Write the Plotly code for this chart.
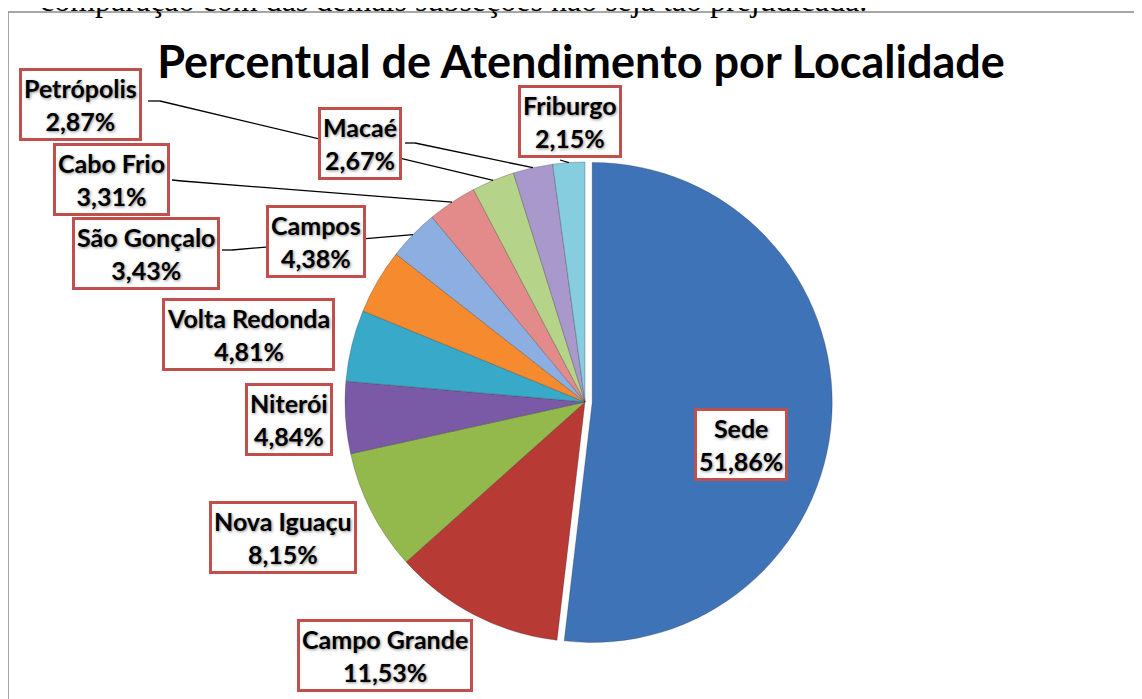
import math
import plotly.graph_objects as go

# ---------------- data ----------------
localidades = ["Sede", "Campo Grande", "Nova Iguaçu", "Niterói", "Volta Redonda",
               "Campos", "São Gonçalo", "Cabo Frio", "Petrópolis", "Macaé", "Friburgo"]
percentuais = [51.86, 11.53, 8.15, 4.84, 4.81, 4.38, 3.43, 3.31, 2.87, 2.67, 2.15]
cores = ["#3F73B8", "#B83A35", "#93B84C", "#7A5AA6", "#38A9C9", "#F58A2E",
         "#8DAEE0", "#E38B8B", "#B5D48A", "#A898CC", "#86CDE0"]
titulo = "Percentual de Atendimento por Localidade"
texto_topo = "comparação com das demais subseções não seja tão prejudicada."

# ---------------- layout constants (page pixels) ----------------
OFF = 8                      # default body margin of the html page
W, H = 1142 - OFF, 699 - OFF  # figure size
CX, CY, R = 585, 402, 240
PULL = 0.03

# label box centres
label_pos = {
    "Sede": (741, 444), "Campo Grande": (385, 655), "Nova Iguaçu": (283, 537),
    "Niterói": (289, 420), "Volta Redonda": (248, 334), "Campos": (316, 241),
    "São Gonçalo": (146, 253), "Cabo Frio": (111, 180), "Petrópolis": (80, 104),
    "Macaé": (360, 143), "Friburgo": (570, 122),
}
# leader line start points (box edge, then short elbow)
leader_start = {
    "Petrópolis": [(148, 101), (160, 101)],
    "Macaé": [(405, 143), (415, 143)],
    "Cabo Frio": [(172, 180), (182, 181)],
    "São Gonçalo": [(222, 250), (232, 250)],
    "Friburgo": [(560, 160)],
}


def px(x):
    return (x - OFF) / W


def py(y):
    return 1 - (y - OFF) / H


fig = go.Figure()

half = R * (1 + PULL)
fig.add_trace(go.Pie(
    labels=localidades, values=percentuais, sort=False, direction="clockwise",
    rotation=0, pull=[PULL] + [0] * (len(percentuais) - 1),
    marker=dict(colors=cores, line=dict(color="rgba(40,40,40,0.35)", width=0.8)),
    textinfo="none", hoverinfo="label+percent", showlegend=False,
    domain=dict(x=[px(CX - half), px(CX + half)], y=[py(CY + half), py(CY - half)]),
))

shapes = []
# frame
shapes.append(dict(type="rect", xref="paper", yref="paper",
                   x0=px(8), x1=px(1141), y0=-0.02, y1=py(12),
                   line=dict(color="#8A8A8A", width=1.5), layer="below"))

# leader lines computed from slice mid-angles
total = sum(percentuais)
cum = 0.0
mid_angle = {}
for nome, v in zip(localidades, percentuais):
    mid_angle[nome] = (cum + v / 2) / total * 2 * math.pi
    cum += v

for nome, pts in leader_start.items():
    a = mid_angle[nome]
    end = (CX + R * math.sin(a), CY - R * math.cos(a))
    path_pts = pts + [end]
    for (x0, y0), (x1, y1) in zip(path_pts[:-1], path_pts[1:]):
        shapes.append(dict(type="line", xref="paper", yref="paper",
                           x0=px(x0), y0=py(y0), x1=px(x1), y1=py(y1),
                           line=dict(color="black", width=1.3)))

annotations = []
for nome, v in zip(localidades, percentuais):
    x, y = label_pos[nome]
    txt = f"<b>{nome}<br>{v:.2f}%</b>".replace(".", ",")
    annotations.append(dict(
        x=px(x), y=py(y), xref="paper", yref="paper", xanchor="center", yanchor="middle",
        text=txt, showarrow=False, align="center",
        font=dict(family="Lato", size=25, color="black",
                  shadow="1px 1px 3px rgba(0,0,0,0.45)"),
        bgcolor="white", bordercolor="#C0504D", borderwidth=3, borderpad=2,
    ))

# cropped text from document above
annotations.append(dict(
    x=px(38), y=py(0), xref="paper", yref="paper", xanchor="left", yanchor="middle",
    text=texto_topo, showarrow=False,
    font=dict(family="Liberation Serif", size=32, color="black"),
))

fig.update_layout(
    width=W, height=H, autosize=False,
    margin=dict(l=0, r=0, t=0, b=0),
    paper_bgcolor="white", plot_bgcolor="white",
    title=dict(text=f"<b>{titulo}</b>", x=px(581), y=py(62), xanchor="center",
               yanchor="middle", font=dict(family="Lato", size=45, color="black")),
    shapes=shapes, annotations=annotations,
)

fig.write_html("out.html")
